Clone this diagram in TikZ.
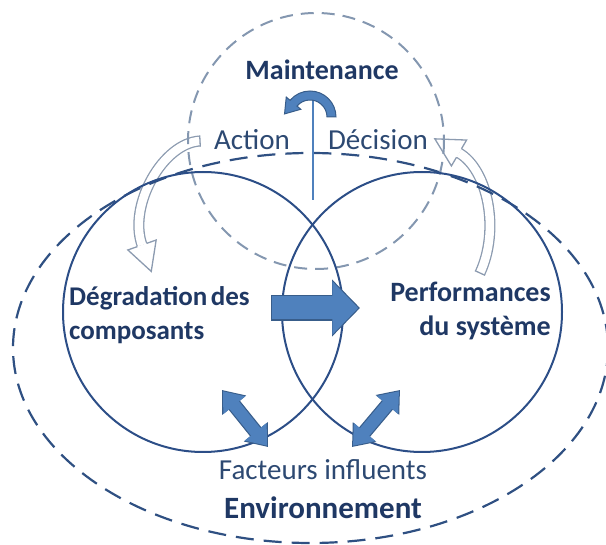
\documentclass[tikz,border=0pt]{standalone}
\usepackage{fontspec}
\setmainfont{Carlito}
\usetikzlibrary{arrows.meta,calc}

\begin{document}
\begin{tikzpicture}[x=1pt,y=-1pt,
    titletxt/.style={inner sep=0pt,text=txtdark,font=\fontsize{28}{34}\selectfont\bfseries},
    labeltxt/.style={inner sep=0pt,text=txtlight,font=\fontsize{29}{34}\selectfont},
    ringline/.style={draw=ringblue,line width=2pt},
    hollowbody/.style={draw=hollowgray,line width=1.3pt,double=white,double distance=8.5pt},
    hollowedge/.style={draw=hollowgray,line width=1.3pt},
    hollowhead/.style={draw=hollowgray,fill=white,line width=1.3pt,line join=miter},
    blockedge/.style={draw=arrowedge,line width=#1},
    blockbody/.style={draw=arrowfill,line width=#1}]
    \definecolor{txtdark}{RGB}{31,56,100}
    \definecolor{txtlight}{RGB}{45,73,114}
    \definecolor{ringblue}{RGB}{44,78,135}
    \definecolor{envblue}{RGB}{47,80,130}
    \definecolor{topgray}{RGB}{132,151,176}
    \definecolor{hollowgray}{RGB}{140,155,176}
    \definecolor{arrowfill}{RGB}{79,129,189}
    \definecolor{arrowedge}{RGB}{56,93,138}
    \useasboundingbox (0,0) rectangle (606,545);
    \clip (0,0) rectangle (606,545);

    % hollow arrows (behind the rings)
    \coordinate (la0) at (200,141);
    \coordinate (la1) at (163,143);
    \coordinate (la2) at (128,205);
    \coordinate (la3) at (142,245);
    \draw[hollowbody] (la0) .. controls (la1) and (la2) .. (la3);
    \draw[hollowedge] ($(la0)!5.6pt!90:(la1)$) -- ($(la0)!5.6pt!-90:(la1)$);
    \draw[hollowhead] ($(la3)!4.9pt!90:(la2)$) -- ($(la3)!15pt!90:(la2)$) -- ($(la3)!-28pt!(la2)$)
        -- ($(la3)!15pt!-90:(la2)$) -- ($(la3)!4.9pt!-90:(la2)$);
    \coordinate (ra0) at (480,273);
    \coordinate (ra1) at (500,230);
    \coordinate (ra2) at (488,170);
    \coordinate (ra3) at (459,153);
    \draw[hollowbody] (ra0) .. controls (ra1) and (ra2) .. (ra3);
    \draw[hollowedge] ($(ra0)!5.6pt!90:(ra1)$) -- ($(ra0)!5.6pt!-90:(ra1)$);
    \draw[hollowhead] ($(ra3)!4.9pt!90:(ra2)$) -- ($(ra3)!15pt!90:(ra2)$) -- ($(ra3)!-28pt!(ra2)$)
        -- ($(ra3)!15pt!-90:(ra2)$) -- ($(ra3)!4.9pt!-90:(ra2)$);

    % environment, maintenance and the two rings
    \draw[draw=envblue,line width=2.2pt,dash pattern=on 18pt off 10pt] (310.5,348) ellipse [x radius=297.5,y radius=195];
    \draw[draw=topgray,line width=2pt,dash pattern=on 13pt off 8pt] (316,141) circle [radius=128];
    \draw[ringline] (203,312) circle [radius=140];
    \draw[ringline] (422,312) circle [radius=140];
    \coordinate (vtop) at (313,100);
    \coordinate (vbot) at (313,200);
    \draw[draw=arrowfill,line width=1.2pt] (vtop) -- (vbot);

    % curved arrow under Maintenance
    \coordinate (mc) at (310,117);
    \draw[draw=arrowedge,fill=arrowfill,line width=1pt,line join=miter]
        ([shift={(0:26)}]mc) arc[start angle=0,end angle=-140,radius=26]
        -- ([shift={(-140:31)}]mc) -- ($(mc)+(-140:21.5)+(130:14)$) -- ([shift={(-140:12)}]mc)
        -- ([shift={(-140:17)}]mc) arc[start angle=-140,end angle=0,radius=17] -- cycle;

    % block arrows
    \coordinate (bt) at (271,308);
    \coordinate (bh) at (360,308);
    \draw[blockedge=25.4pt,-{Triangle[length=28pt,width=55.5pt]}] (bt) -- (bh);
    \draw[blockbody=23pt,-{Triangle[length=26pt,width=52pt]},shorten >=1.7pt,shorten <=1.2pt] (bt) -- (bh);
    \coordinate (dl1) at (222,390);
    \coordinate (dl2) at (268,447);
    \draw[blockedge=14.4pt,{Triangle[length=19.5pt,width=29.5pt]}-{Triangle[length=19.5pt,width=29.5pt]}] (dl1) -- (dl2);
    \draw[blockbody=12pt,{Triangle[length=18pt,width=27pt]}-{Triangle[length=18pt,width=27pt]},shorten >=1.6pt,shorten <=1.6pt] (dl1) -- (dl2);
    \coordinate (dr1) at (352,447);
    \coordinate (dr2) at (400,390);
    \draw[blockedge=14.4pt,{Triangle[length=19.5pt,width=29.5pt]}-{Triangle[length=19.5pt,width=29.5pt]}] (dr1) -- (dr2);
    \draw[blockbody=12pt,{Triangle[length=18pt,width=27pt]}-{Triangle[length=18pt,width=27pt]},shorten >=1.6pt,shorten <=1.6pt] (dr1) -- (dr2);

    % texts
    \node[titletxt] (maint) at (322,70) {Maintenance};
    \node[labeltxt] (action) at (252,140) {Action};
    \node[labeltxt] (decision) at (378,140) {Décision};
    \node[titletxt,font=\fontsize{27}{34}\selectfont\bfseries,align=left,anchor=west] (degr) at (69,315) {Dégradation\hspace{0.13em}des\\composants};
    \node[titletxt,align=right,anchor=east] (perf) at (551,311) {Performances\\du système};
    \node[labeltxt] (fact) at (323,470) {Facteurs influents};
    \node[titletxt,font=\fontsize{31}{34}\selectfont\bfseries] (env) at (323,508) {Environnement};
\end{tikzpicture}
\end{document}
